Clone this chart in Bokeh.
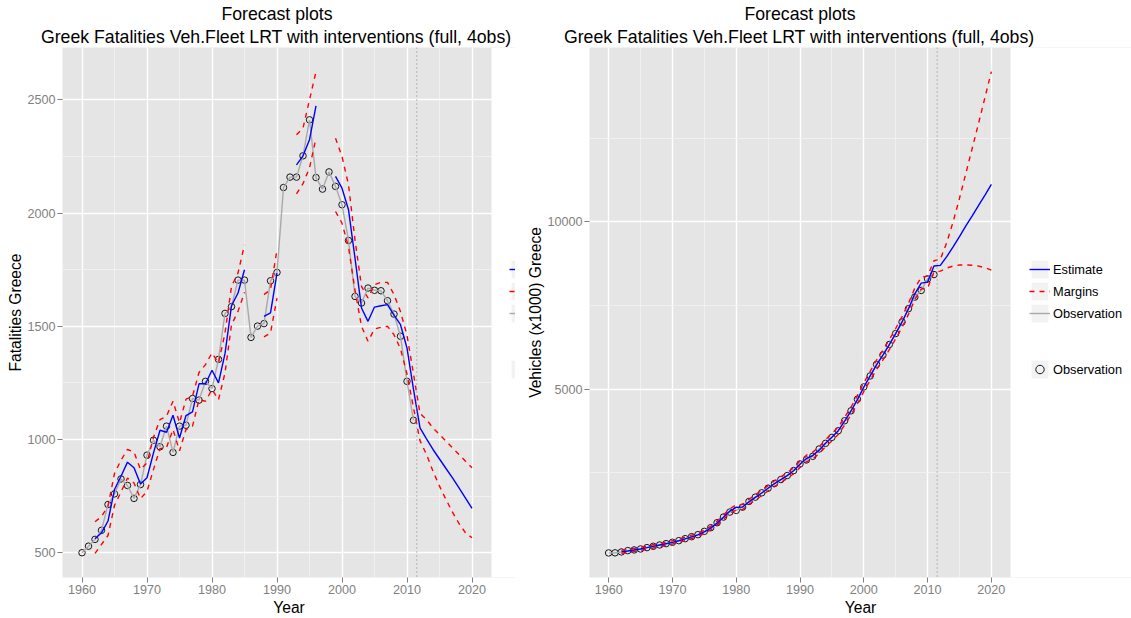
import math
from bokeh.plotting import figure
from bokeh.models import (Range1d, FixedTicker, Legend, LegendItem, Span, Title,
                          BoxAnnotation)
from bokeh.layouts import row
from bokeh.embed import file_html
from bokeh.resources import INLINE

FONT = "Liberation Sans"

# ---------------- data ----------------
obs_years = list(range(1960, 2012))
est_years = list(range(1962, 2021))
intervention_year = 2011.5

x_ticks = [1960, 1970, 1980, 1990, 2000, 2010, 2020]
x_minor = [1965, 1975, 1985, 1995, 2005, 2015]
fatal_ticks = [500, 1000, 1500, 2000, 2500]
fatal_minor = [750, 1250, 1750, 2250]
veh_ticks = [5000, 10000]
veh_minor = [2500, 7500, 12500]

title_main = "Forecast plots"
title_sub = "Greek Fatalities Veh.Fleet LRT with interventions (full, 4obs)"
legend_line_labels = ["Estimate", "Margins", "Observation"]
legend_point_label = "Observation"

fatal_obs = [500, 529, 559, 599, 713, 760, 826, 797, 740, 801,
             931, 997, 968, 1059, 943, 1059, 1063, 1181, 1174, 1257,
             1225, 1354, 1557, 1587, 1704, 1704, 1451, 1501, 1512, 1701,
             1738, 2113, 2159, 2159, 2253, 2412, 2157, 2106, 2182, 2118,
             2037, 1879, 1632, 1603, 1669, 1659, 1657, 1613, 1554, 1456,
             1257, 1085]
fatal_est = [562, 588, 640, 779, 838, 900, 875, 804,
             831, 941, 1041, 1032, 1107, 1007, 1106, 1122, 1246, 1246,
             1306, 1250, 1379, 1591, 1647, 1750, None, None, 1544, 1559,
             1735, None, None, 2213, 2253, 2324, 2474, None, None, 2162,
             2110, 2015, 1801, 1581, 1522, 1585, 1591, 1596, 1549, 1507,
             1404, 1221, 1051, 1003, 956, 914, 872, 831, 786, 741, 696]
fatal_upper = [637, 660, 706, 850, 909, 956, 944, 868,
               897, 1010, 1088, 1103, 1169, 1074, 1178, 1191, 1296, 1331,
               1382, 1338, 1470, 1676, 1735, 1860, None, None, 1640, 1662,
               1838, None, None, 2346, 2375, 2500, 2625, None, None, 2331,
               2250, 2125, 1882, 1676, 1625, 1684, 1694, 1694, 1640, 1565,
               1460, 1290, 1115, 1088, 1051, 1022, 993, 963, 934, 904, 875]
fatal_lower = [497, 537, 576, 709, 768, 830, 808, 739,
               771, 868, 960, 965, 1044, 950, 1044, 1059, 1176, 1169,
               1221, 1176, 1294, 1507, 1566, 1650, None, None, 1453, 1471,
               1625, None, None, 2085, 2130, 2200, 2331, None, None, 2007,
               1956, 1850, 1660, 1500, 1434, 1488, 1496, 1500, 1463, 1400,
               1290, 1140, 995, 934, 860, 794, 735, 679, 629, 588, 566]

veh_obs = [109, 112, 139, 179, 199, 228, 268, 308, 347, 387,
           427, 476, 536, 595, 655, 754, 863, 1012, 1181, 1330,
           1379, 1478, 1647, 1776, 1905, 2044, 2183, 2302, 2421, 2570,
           2768, 2887, 2996, 3214, 3383, 3562, 3760, 4058, 4355, 4702,
           5069, 5397, 5743, 6020, 6337, 6664, 7010, 7406, 7753, 7951,
           8297, 8426]
veh_est = [140, 168, 198, 228, 266, 305, 345, 385,
           425, 473, 530, 590, 650, 740, 850, 1000, 1175, 1360,
           1470, 1480, 1635, 1770, 1900, 2040, 2180, 2300, 2420, 2565,
           2760, 2930, 3020, 3180, 3385, 3565, 3760, 4050, 4350, 4690,
           5060, 5400, 5730, 6020, 6330, 6660, 7010, 7400, 7850, 8170,
           8200, 8680, 8700, 8960, 9250, 9560, 9880, 10180, 10490, 10800, 11120]
veh_upper = [190, 215, 245, 275, 315, 355, 395, 435,
             475, 525, 580, 640, 700, 795, 905, 1060, 1240, 1430,
             1545, 1555, 1710, 1850, 1980, 2120, 2265, 2385, 2505, 2655,
             2855, 3030, 3120, 3280, 3490, 3675, 3870, 4165, 4470, 4815,
             5190, 5535, 5870, 6165, 6480, 6815, 7170, 7565, 8020, 8345,
             8380, 8840, 8880, 9380, 10000, 10700, 11450, 12200, 12950, 13720, 14490]
veh_lower = [95, 120, 150, 180, 218, 255, 295, 335,
             375, 420, 480, 540, 600, 685, 795, 940, 1110, 1290,
             1395, 1405, 1560, 1690, 1820, 1960, 2095, 2215, 2335, 2475,
             2665, 2830, 2920, 3080, 3280, 3455, 3650, 3935, 4230, 4565,
             4930, 5265, 5590, 5875, 6180, 6505, 6850, 7235, 7680, 7995,
             8020, 8500, 8530, 8620, 8680, 8710, 8715, 8705, 8680, 8630, 8560]

for name, arr, ref in [("fatal_obs", fatal_obs, obs_years), ("fatal_est", fatal_est, est_years),
                       ("fatal_upper", fatal_upper, est_years), ("fatal_lower", fatal_lower, est_years),
                       ("veh_obs", veh_obs, obs_years), ("veh_est", veh_est, est_years),
                       ("veh_upper", veh_upper, est_years), ("veh_lower", veh_lower, est_years)]:
    if len(arr) != len(ref):
        raise ValueError(f"{name}: {len(arr)} != {len(ref)}")

# ---------------- styling ----------------
PANEL_BG = "#E5E5E5"
MINOR_GRID = "#F2F2F2"
TICK_GREY = "#7F7F7F"
BLUE = "#0000FF"
RED = "#FF0000"
OBS_GREY = "#A9A9A9"
H = 618
TOP = 47
BOTTOM = 40
FRAME_BOTTOM = H - BOTTOM
TITLE_PX = 17.7
TITLE_MAIN_EM = 6.280     # Arial/Liberation advance width of title_main, in em
TITLE_SUB_EM = 26.676     # same for title_sub


def nanify(vals):
    return [float("nan") if v is None else v for v in vals]


def make_panel(width, border_left, data_w, ylabel, obs, est, upper, lower,
               yticks, yminor, line_labels, point_label, legend_x, label_size):
    vals = [v for v in obs + est + upper + lower if v is not None]
    lo, hi = min(vals), max(vals)
    pad = 0.05 * (hi - lo)
    xpad = 0.05 * (est_years[-1] - obs_years[0])
    x0, x1 = obs_years[0] - xpad, est_years[-1] + xpad
    frame_w = width - border_left
    # the frame runs to the canvas edge; the area right of the data panel is covered in white
    x_end = x0 + (x1 - x0) * frame_w / data_w
    p = figure(width=width, height=H, output_backend="svg", toolbar_location=None,
               x_range=Range1d(x0, x_end), y_range=Range1d(lo - pad, hi + pad),
               min_border_left=border_left, min_border_right=0,
               min_border_top=TOP, min_border_bottom=BOTTOM)
    p.background_fill_color = PANEL_BG
    p.border_fill_color = "white"
    p.outline_line_color = None

    # titles, centred over the data panel
    centre = data_w / 2
    p.title.text = title_main
    p.title.align = "left"
    p.title.offset = centre - TITLE_MAIN_EM * TITLE_PX / 2
    p.title.text_font = FONT
    p.title.text_font_size = f"{TITLE_PX}px"
    p.title.text_font_style = "normal"
    p.title.text_color = "black"
    p.title.standoff = 0
    t2 = Title(text=title_sub, align="left", offset=centre - TITLE_SUB_EM * TITLE_PX / 2,
               text_font=FONT, text_font_size=f"{TITLE_PX}px",
               text_font_style="normal", text_color="black", standoff=2)
    p.add_layout(t2, "above")

    # axes
    p.xaxis.ticker = FixedTicker(ticks=x_ticks, minor_ticks=x_minor)
    p.yaxis.ticker = FixedTicker(ticks=yticks, minor_ticks=yminor)
    p.xaxis.bounds = (x0, x1)
    p.xaxis.axis_label = "Year"
    p.yaxis.axis_label = ylabel
    for ax in (p.xaxis[0], p.yaxis[0]):
        ax.axis_line_color = None
        ax.major_tick_line_color = TICK_GREY
        ax.major_tick_out = 5
        ax.major_tick_in = 0
        ax.minor_tick_line_color = None
        ax.major_label_text_color = TICK_GREY
        ax.major_label_text_font = FONT
        ax.major_label_text_font_size = "12.6px"
        ax.major_label_standoff = 2
        ax.axis_label_text_font = FONT
        ax.axis_label_text_font_size = "15.6px"
        ax.axis_label_text_font_style = "normal"
        ax.axis_label_text_color = "black"
        ax.axis_label_standoff = 2
    p.yaxis.axis_label_standoff = 0
    p.yaxis.major_label_orientation = "horizontal"

    for g in (p.xgrid[0], p.ygrid[0]):
        g.grid_line_color = "white"
        g.grid_line_width = 1.4
        g.minor_grid_line_color = MINOR_GRID
        g.minor_grid_line_width = 0.8

    # data
    r_pts = p.scatter(obs_years, obs, marker="circle", size=6.5, fill_color=None,
                      line_color="black", line_width=0.9)
    r_obs = p.line(obs_years, obs, line_color=OBS_GREY, line_width=1.4)
    r_up = p.line(est_years, nanify(upper), line_color=RED, line_width=1.4, line_dash="5 5")
    p.line(est_years, nanify(lower), line_color=RED, line_width=1.4, line_dash="5 5")
    r_est = p.line(est_years, nanify(est), line_color=BLUE, line_width=1.4)

    p.add_layout(Span(location=intervention_year, dimension="height", line_color="#8C8C8C",
                      line_dash="1 3", line_width=1.1))

    # white area to the right of the data panel (legend space)
    p.add_layout(BoxAnnotation(left=x1, fill_color="white", fill_alpha=1.0,
                               line_alpha=0, level="annotation"))

    # legend key backgrounds (out of view)
    far = x0 - 60
    keybg = p.quad(left=[far], right=[far + 1], bottom=[0], top=[1],
                   fill_color=MINOR_GRID, line_color=None)

    leg_kw = dict(background_fill_alpha=0, border_line_color=None, padding=0, margin=0,
                  spacing=0, glyph_width=21, glyph_height=22, label_height=22,
                  label_standoff=3, label_text_font=FONT, label_text_font_size=label_size,
                  label_text_color="black")
    leg1 = Legend(items=[LegendItem(label=line_labels[0], renderers=[keybg, r_est]),
                         LegendItem(label=line_labels[1], renderers=[keybg, r_up]),
                         LegendItem(label=line_labels[2], renderers=[keybg, r_obs])],
                  location=(legend_x, FRAME_BOTTOM - 325), **leg_kw)
    leg2 = Legend(items=[LegendItem(label=point_label, renderers=[keybg, r_pts])],
                  location=(legend_x, FRAME_BOTTOM - 381), **leg_kw)
    p.add_layout(leg1, "center")
    p.add_layout(leg2, "center")
    return p


left = make_panel(515, 62, 429, "Fatalities Greece", fatal_obs, fatal_est, fatal_upper,
                  fatal_lower, fatal_ticks, fatal_minor, ["", "", ""], "", 447, "12.8px")
right = make_panel(616, 74, 421, "Vehicles (x1000) Greece", veh_obs, veh_est, veh_upper,
                   veh_lower, veh_ticks, veh_minor, legend_line_labels, legend_point_label,
                   440, "12.8px")

layout = row(left, right, spacing=0)
open("out.html", "w").write(file_html(layout, INLINE))
